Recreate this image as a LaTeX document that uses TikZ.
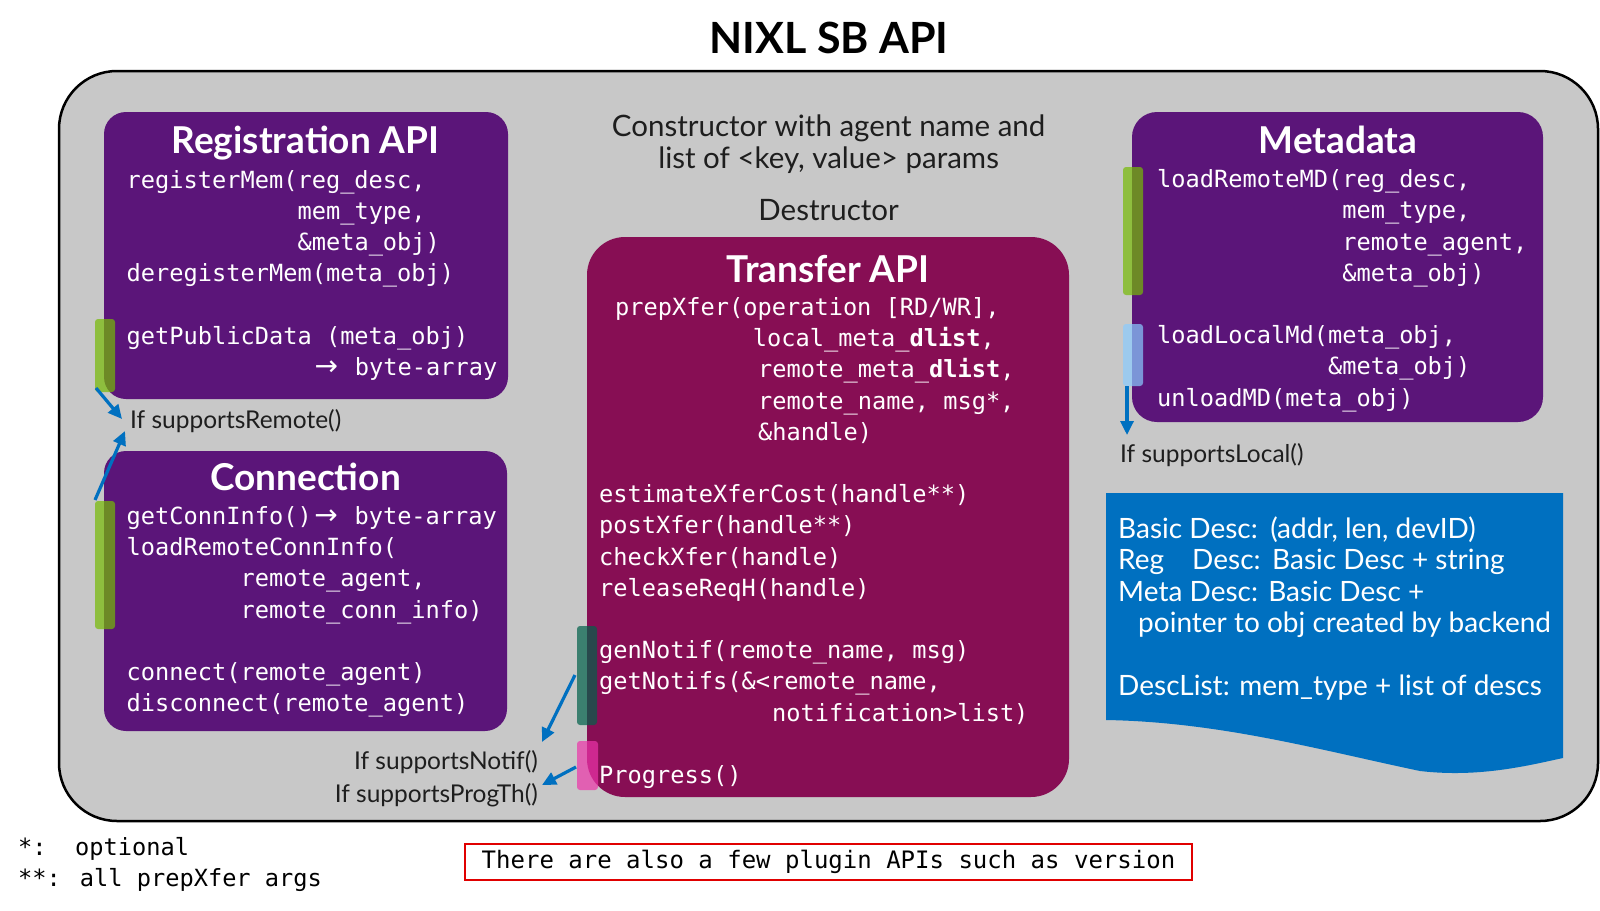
\documentclass[tikz,border=0pt]{standalone}
\usepackage{fontspec}
\setmainfont{Lato}
\newfontfamily\codefont{DejaVu Sans Mono}
\newfontfamily\arrowfont{DejaVu Sans}
\newcommand\codearrow{\makebox[28.5pt]{\arrowfont\fontsize{28}{31.2}\selectfont →}}
\usetikzlibrary{arrows.meta}
\definecolor{panelgray}{HTML}{C8C8C8}
\definecolor{apipurple}{HTML}{5B1579}
\definecolor{xfercrimson}{HTML}{870E54}
\definecolor{descblue}{HTML}{0070C0}
\definecolor{arrowblue}{HTML}{0070C0}
\definecolor{labelgray}{HTML}{1E1E1E}
\definecolor{barGreen}{RGB}{118,187,4}
\definecolor{barTeal}{RGB}{0,97,74}
\definecolor{barPink}{RGB}{237,52,170}
\definecolor{barBlue}{RGB}{138,204,255}
\definecolor{plugred}{HTML}{E00000}
\tikzset{
  outerpanel/.style={draw=black, line width=2.5pt, fill=panelgray, rounded corners=58pt, inner sep=0pt},
  apibox/.style={fill=apipurple, rounded corners=22pt, inner sep=0pt},
  xferbox/.style={fill=xfercrimson, rounded corners=38pt, inner sep=0pt},
  sidebar/.style={fill opacity=0.7, rounded corners=3pt},
  flow/.style={draw=arrowblue, line width=3.2pt, -{Triangle[length=14pt,width=13pt]}},
  codetext/.style={font=\codefont\fontsize{23.65}{31.2}\selectfont, text=white, align=left, inner sep=0pt, anchor=north west},
  boxtitle/.style={font=\bfseries\fontsize{37}{42}\selectfont, text=white, inner sep=0pt, anchor=base},
  bodytext/.style={font=\fontsize{29.5}{34}\selectfont, text=labelgray, inner sep=0pt, anchor=base},
  condlabel/.style={font=\fontsize{24.5}{28}\selectfont, text=labelgray, inner sep=0pt},
  desctext/.style={font=\fontsize{28}{31.5}\selectfont, text=white, align=left, inner sep=0pt, anchor=north west},
  footnotetext/.style={font=\codefont\fontsize{23.65}{30}\selectfont, text=black, inner sep=0pt, anchor=base west},
}
\begin{document}
\begin{tikzpicture}[x=1pt,y=-1pt]
\useasboundingbox (0,0) rectangle (1600,910);
\fill[white] (0,0) rectangle (1600,910);

% main title
\node[font=\bfseries\fontsize{43}{48}\selectfont, text=black, inner sep=0pt, anchor=base] (title) at (829,53) {NIXL SB API};

% outer panel
\node[outerpanel, minimum width=1539pt, minimum height=750pt] (panel) at (828.5,446) {};

% boxes
\node[apibox, minimum width=404pt, minimum height=287pt] (reg) at (306,255.5) {};
\node[apibox, minimum width=403pt, minimum height=280pt] (conn) at (305.5,591) {};
\node[xferbox, minimum width=482pt, minimum height=560pt] (xfer) at (828,517) {};
\node[apibox, rounded corners=25pt, minimum width=411pt, minimum height=310pt] (meta) at (1337.5,267) {};

% description document shape
\fill[descblue] (1106,493) -- (1563,493) -- (1563,758)
  .. controls (1530,765) and (1480,778) .. (1420,771)
  .. controls (1320,750) and (1220,722) .. (1106,720) -- cycle;

% side bars
\fill[sidebar, barGreen] (95,319) rectangle (115,392);
\fill[sidebar, barGreen] (95,501) rectangle (115,629);
\fill[sidebar, barGreen] (1123,167) rectangle (1143,295);
\fill[sidebar, barBlue] (1123,324) rectangle (1143,386);
\fill[sidebar, barTeal] (577,626) rectangle (597,725);
\fill[sidebar, barPink] (577,741) rectangle (598,790);

% arrow endpoints
\coordinate (regbarend) at (96,388);
\coordinate (remotetip) at (122,419);
\coordinate (connbarend) at (95,500);
\coordinate (remotetipB) at (125,431);
\coordinate (localbarend) at (1127,386);
\coordinate (localtip) at (1127,435);
\coordinate (notifbar) at (575,675);
\coordinate (notiftip) at (542,742);
\coordinate (progbar) at (576,767);
\coordinate (progtip) at (542,785);

\draw[flow] (regbarend) -- (remotetip);
\draw[flow] (connbarend) -- (remotetipB);
\draw[flow] (localbarend) -- (localtip);
\draw[flow] (notifbar) -- (notiftip);
\draw[flow] (progbar) -- (progtip);

% titles
\node[boxtitle] (regtitle) at (305.5,153) {Registration API};
\node[boxtitle] (conntitle) at (305.5,490) {Connection};
\node[boxtitle] (xfertitle) at (828,282) {Transfer API};
\node[boxtitle] (metatitle) at (1338,153) {Metadata};

% code
\node[codetext] (regcode) at (126.5,166) {\strut registerMem(reg\_desc,\\
\phantom{registerMem(}mem\_type,\\
\phantom{registerMem(}\&meta\_obj)\\
deregisterMem(meta\_obj)\\
\mbox{}\\
getPublicData (meta\_obj)\\
\hspace*{185.5pt}\codearrow\ byte-array};

\node[codetext] (conncode) at (126.5,502.5) {\strut getConnInfo()\codearrow\ byte-array\\
loadRemoteConnInfo(\\
\phantom{xxxxxxxx}remote\_agent,\\
\phantom{xxxxxxxx}remote\_conn\_info)\\
\mbox{}\\
connect(remote\_agent)\\
disconnect(remote\_agent)};

\node[codetext] (xfercode) at (599,293.4) {\strut\hspace*{16pt}prepXfer(operation [RD/WR],\\
\hspace*{153.7pt}local\_meta\_\textbf{dlist},\\
\hspace*{159pt}remote\_meta\_\textbf{dlist},\\
\hspace*{159pt}remote\_name, msg*,\\
\hspace*{159pt}\&handle)\\
\mbox{}\\
estimateXferCost(handle**)\\
postXfer(handle**)\\
checkXfer(handle)\\
releaseReqH(handle)\\
\mbox{}\\
genNotif(remote\_name, msg)\\
getNotifs(\&<remote\_name,\\
\hspace*{173pt}notification>list)\\
\mbox{}\\
Progress()};

\node[codetext] (metacode) at (1157,165.6) {\strut loadRemoteMD(reg\_desc,\\
\phantom{loadRemoteMD(}mem\_type,\\
\phantom{loadRemoteMD(}remote\_agent,\\
\phantom{loadRemoteMD(}\&meta\_obj)\\
\mbox{}\\
loadLocalMd(meta\_obj,\\
\phantom{loadLocalMd(}\&meta\_obj)\\
unloadMD(meta\_obj)};

% center text
\node[bodytext] (ctorA) at (828.6,136.5) {Constructor with agent name and};
\node[bodytext] (ctorB) at (828.6,168) {list of <key, value> params};
\node[bodytext] (dtor) at (828.6,220.5) {Destructor};

% condition labels
\node[condlabel, anchor=base west] (remotelbl) at (130,428) {If supportsRemote()};
\node[condlabel, anchor=base west] (locallbl) at (1120,462) {If supportsLocal()};
\node[condlabel, anchor=base east] (notiflbl) at (538,769.5) {If supportsNotif()};
\node[condlabel, anchor=base east] (proglbl) at (538,802) {If supportsProgTh()};

% description text
\node[desctext] (desc) at (1118,516) {\strut\makebox[152pt][l]{Basic Desc:}(addr, len, devID)\\
\makebox[74pt][l]{Reg}\makebox[80pt][l]{Desc:}Basic Desc + string\\
\makebox[150pt][l]{Meta Desc:}Basic Desc +\\
\hspace*{20pt}pointer to obj created by backend\\
\mbox{}\\
DescList: mem\_type + list of descs};

% footnotes
\node[footnotetext] (fnA) at (18,855) {*:\phantom{xx}optional};
\node[footnotetext] (fnB) at (18,886) {**: all prepXfer args};

% plugin note
\node[draw=plugred, line width=1.5pt, fill=white, minimum width=727pt, minimum height=36pt, inner sep=0pt,
  text height=17pt, text depth=4pt, font=\codefont\fontsize{24}{28}\selectfont, text=black] (plugin) at (828.5,862)
  {There are also a few plugin APIs such as version};
\end{tikzpicture}
\end{document}
